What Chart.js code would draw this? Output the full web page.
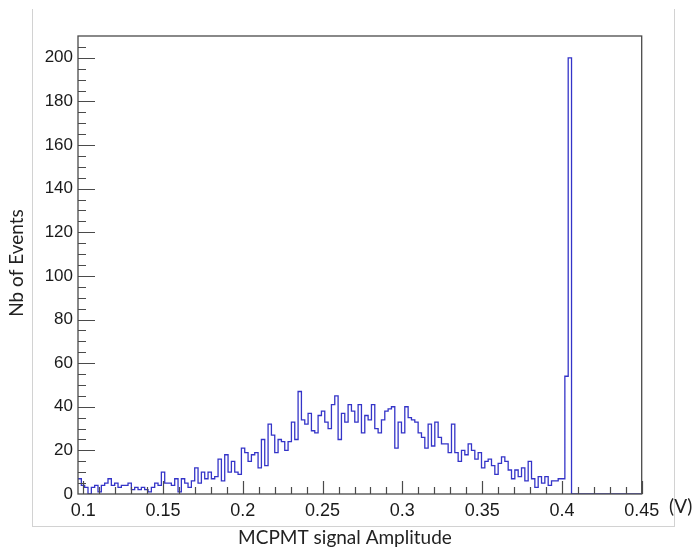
<!DOCTYPE html>
<html>
<head>
<meta charset="utf-8">
<script src="https://cdn.jsdelivr.net/npm/chart.js@4.4.1/dist/chart.umd.min.js"></script>
<style>
  body { margin: 0; background: #fff; }
  #wrap { position: relative; width: 694px; height: 548px; }
  #border { position: absolute; left: 32px; top: 9px; width: 641px; height: 517px;
            border-left: 1px solid #d2d2d2; border-right: 1px solid #d2d2d2; border-bottom: 1px solid #d2d2d2; }
  canvas { position: absolute; left: 0; top: 0; }
</style>
</head>
<body>
<div id="wrap">
  <div id="border"></div>
  <canvas id="histo" width="694" height="548"></canvas>
</div>
<script>
// Histogram binning (V)
const binLow = 0.0967;
const binWidth = 0.00209;

// Nb of events per bin
const counts = [
  7, 4, 3, 0, 3, 4, 1, 4, 5, 7, 4, 5, 3, 4, 4, 5, 2, 3, 2, 3, 2, 1, 3, 5, 4, 10, 5, 5, 4, 7,
  1, 7, 5, 3, 6, 12, 5, 10, 7, 10, 7, 8, 16, 6, 18, 10, 15, 10, 9, 21, 19, 15, 18, 19, 12, 25, 13, 32, 27, 19,
  25, 24, 20, 24, 33, 25, 47, 34, 32, 37, 29, 28, 36, 38, 33, 30, 41, 45, 25, 37, 33, 41, 38, 33, 41, 28, 36, 34, 41, 30,
  28, 34, 38, 39, 40, 21, 33, 28, 40, 35, 34, 33, 28, 26, 21, 32, 22, 33, 26, 23, 23, 19, 32, 19, 15, 20, 18, 23, 20, 16,
  19, 12, 15, 16, 13, 9, 14, 17, 15, 11, 7, 11, 8, 12, 6, 15, 7, 3, 8, 5, 8, 4, 6, 6, 7, 7, 54, 200, 0
];

const xTicks = [0.1, 0.15, 0.2, 0.25, 0.3, 0.35, 0.4, 0.45];
const yTicks = [0, 20, 40, 60, 80, 100, 120, 140, 160, 180, 200];

const xMin = 0.0967, xMax = 0.45;
const yMin = 0, yMax = 210;

// step points at bin low edges, plus the last upper edge
const points = counts.map((c, i) => ({ x: binLow + i * binWidth, y: c }));
points.push({ x: xMax, y: 0 });

const frameColor = '#4a4a4a';

// ROOT-like frame, inward ticks and axis titles
const rootFrame = {
  id: 'rootFrame',
  afterDatasetsDraw(chart) {
    const { ctx, chartArea: a, scales } = chart;
    const x = scales.x, y = scales.y;
    ctx.save();
    ctx.strokeStyle = frameColor;
    ctx.lineWidth = 1.3;
    ctx.strokeRect(a.left, a.top, a.right - a.left, a.bottom - a.top);

    ctx.lineWidth = 1.2;
    ctx.beginPath();
    for (let i = 0; i <= 35; i++) {
      const px = Math.round(x.getPixelForValue(0.1 + i * 0.01)) + 0.5;
      const len = i % 5 === 0 ? 13 : 7;
      ctx.moveTo(px, a.bottom);
      ctx.lineTo(px, a.bottom - len);
    }
    for (let v = 5; v < yMax; v += 5) {
      const py = Math.round(y.getPixelForValue(v)) + 0.5;
      const len = v % 20 === 0 ? 17 : 8;
      ctx.moveTo(a.left, py);
      ctx.lineTo(a.left + len, py);
    }
    ctx.stroke();

    ctx.fillStyle = '#222';
    ctx.font = '19px Lato';
    ctx.textBaseline = 'middle';
    ctx.textAlign = 'left';
    ctx.fillText('(V)', 669, 507);
    ctx.textAlign = 'center';
    ctx.fillText('MCPMT signal Amplitude', 345, 538);
    ctx.translate(17, 263);
    ctx.rotate(-Math.PI / 2);
    ctx.fillText('Nb of Events', 0, 0);
    ctx.restore();
  }
};

const ctx = document.getElementById('histo').getContext('2d');
const histo = new Chart(ctx, {
  type: 'line',
  data: {
    datasets: [{
      data: points,
      stepped: 'before',
      borderColor: '#3434c8',
      borderWidth: 1.3,
      pointRadius: 0,
      fill: false,
      tension: 0
    }]
  },
  options: {
    responsive: false,
    animation: false,
    layout: { padding: { top: 36, right: 52.3, left: 0, bottom: 0 } },
    plugins: { legend: { display: false }, tooltip: { enabled: false } },
    scales: {
      x: {
        type: 'linear',
        min: xMin,
        max: xMax,
        grid: { display: false, drawTicks: false },
        border: { display: false },
        afterFit: s => { s.height = 54; },
        afterBuildTicks: s => { s.ticks = xTicks.map(v => ({ value: v })); },
        ticks: {
          autoSkip: false,
          maxRotation: 0,
          padding: 6,
          color: '#1a1a1a',
          font: { family: 'Liberation Sans', size: 18 },
          callback: v => String(Number(v.toFixed(2)))
        }
      },
      y: {
        min: yMin,
        max: yMax,
        grid: { display: false, drawTicks: false },
        border: { display: false },
        afterFit: s => { s.width = 78; },
        afterBuildTicks: s => { s.ticks = yTicks.map(v => ({ value: v })); },
        ticks: {
          autoSkip: false,
          padding: 5,
          color: '#1a1a1a',
          font: { family: 'Liberation Sans', size: 17 }
        }
      }
    }
  },
  plugins: [rootFrame]
});
</script>
</body>
</html>
